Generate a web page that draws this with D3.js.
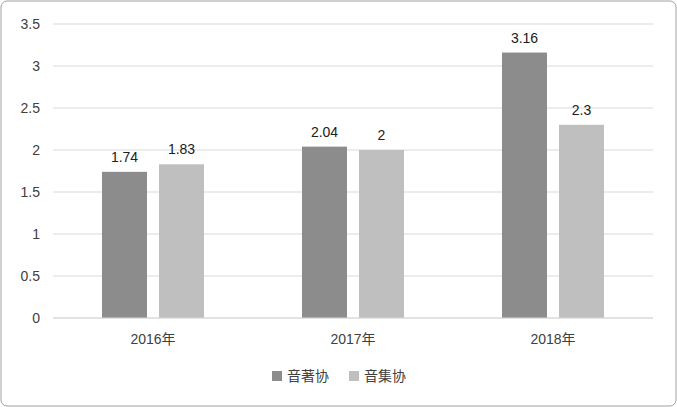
<!DOCTYPE html><html><head><meta charset="utf-8"><script src="https://cdn.jsdelivr.net/npm/d3@7"></script>
<style>body{margin:0;background:#fff}</style></head><body><svg id="c" width="677" height="407"></svg>
<script>
const categories=["2016年","2017年","2018年"];
const seriesNames=["音著协","音集协"];
const yinzhu=[1.74,2.04,3.16];
const yinji=[1.83,2,2.3];
const yTicks=[0,0.5,1,1.5,2,2.5,3,3.5];
const colors=["#8c8c8c","#bfbfbf"];
const svg=d3.select("#c");
const font="'Liberation Sans','Noto Sans CJK SC',sans-serif";
svg.append("rect").attr("x",1).attr("y",1).attr("width",675).attr("height",405).attr("rx",6).attr("fill","#fff").attr("stroke","#a0a0a0");
const x=d3.scaleBand().domain(categories).range([53,653]);
const y=d3.scaleLinear().domain([0,3.5]).range([318,24]);
svg.append("g").selectAll("line").data(yTicks).join("line").attr("x1",53).attr("x2",653).attr("y1",d=>y(d)).attr("y2",d=>y(d)).attr("stroke","#d9d9d9");
svg.append("g").selectAll("text").data(yTicks).join("text").attr("x",40).attr("y",d=>y(d)+5).attr("text-anchor","end").attr("font-family",font).attr("font-size",14).attr("fill","#404040").text(d=>d);
const series=[yinzhu,yinji];
const bw=45,gap=12;
series.forEach((s,i)=>{
  const off=i===0?-(bw+gap/2):gap/2;
  const g=svg.append("g");
  g.selectAll("rect").data(s).join("rect").attr("x",(d,j)=>x(categories[j])+x.bandwidth()/2+off).attr("width",bw).attr("y",d=>y(d)).attr("height",d=>y(0)-y(d)).attr("fill",colors[i]);
  g.selectAll("text").data(s).join("text").attr("x",(d,j)=>x(categories[j])+x.bandwidth()/2+off+bw/2).attr("y",d=>y(d)-10).attr("text-anchor","middle").attr("font-family",font).attr("font-size",14).attr("fill","#202020").text(d=>d);
});
svg.append("line").attr("x1",53).attr("x2",653).attr("y1",318).attr("y2",318).attr("stroke","#d9d9d9");
svg.append("g").selectAll("text").data(categories).join("text").attr("x",d=>x(d)+x.bandwidth()/2).attr("y",344).attr("text-anchor","middle").attr("font-family",font).attr("font-size",14).attr("fill","#404040").text(d=>d);
const lx=[272,349];
seriesNames.forEach((n,i)=>{
  svg.append("rect").attr("x",lx[i]).attr("y",371).attr("width",10).attr("height",10).attr("fill",colors[i]);
  svg.append("text").attr("x",lx[i]+15).attr("y",381).attr("font-family",font).attr("font-size",14).attr("fill","#404040").text(n);
});
</script></body></html>
